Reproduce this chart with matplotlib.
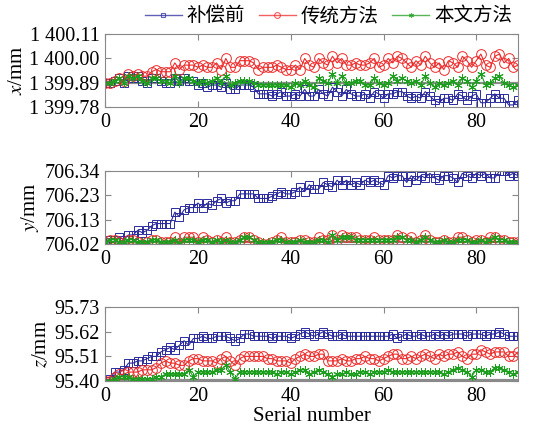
import numpy as np
import matplotlib
matplotlib.use('Agg')
import matplotlib.pyplot as plt
from matplotlib.lines import Line2D
from matplotlib.ticker import FuncFormatter

# fonts: Times-like for numbers, CJK fallback for legend
plt.rcParams['font.family'] = ['Liberation Serif', 'Noto Sans CJK SC']
plt.rcParams['mathtext.fontset'] = 'stix'
matplotlib.rc('xtick', labelsize=14.5)
matplotlib.rc('ytick', labelsize=14.5)

# serial numbers
serial = np.arange(90)

# legend labels
labels = ['补偿前', '传统方法', '本文方法']

# x coordinate (mm)
x_before = [1399.89, 1399.89, 1399.90, 1399.91, 1399.89, 1399.92, 1399.91, 1399.92, 1399.90, 1399.89,
            1399.91, 1399.91, 1399.90, 1399.89, 1399.89, 1399.91, 1399.90, 1399.91, 1399.90, 1399.90,
            1399.88, 1399.89, 1399.87, 1399.88, 1399.88, 1399.87, 1399.89, 1399.86, 1399.86, 1399.88,
            1399.88, 1399.88, 1399.87, 1399.84, 1399.84, 1399.84, 1399.83, 1399.84, 1399.85, 1399.83,
            1399.83, 1399.84, 1399.83, 1399.86, 1399.83, 1399.83, 1399.86, 1399.84, 1399.83, 1399.87,
            1399.85, 1399.83, 1399.86, 1399.84, 1399.83, 1399.83, 1399.84, 1399.82, 1399.85, 1399.84,
            1399.82, 1399.84, 1399.84, 1399.85, 1399.85, 1399.83, 1399.82, 1399.83, 1399.82, 1399.85,
            1399.83, 1399.81, 1399.80, 1399.82, 1399.82, 1399.81, 1399.84, 1399.83, 1399.81, 1399.83,
            1399.84, 1399.80, 1399.80, 1399.82, 1399.84, 1399.82, 1399.82, 1399.79, 1399.79, 1399.81]
x_trad = [1399.89, 1399.89, 1399.90, 1399.91, 1399.90, 1399.93, 1399.92, 1399.93, 1399.92, 1399.92,
          1399.94, 1399.95, 1399.94, 1399.94, 1399.94, 1399.98, 1399.95, 1399.97, 1399.97, 1399.97,
          1399.96, 1399.97, 1399.96, 1399.96, 1399.98, 1399.95, 1400.00, 1399.96, 1399.96, 1399.99,
          1399.99, 1399.99, 1399.98, 1399.95, 1399.96, 1399.96, 1399.96, 1399.97, 1399.96, 1399.95,
          1399.95, 1399.97, 1399.95, 1400.00, 1399.97, 1399.96, 1400.00, 1399.98, 1399.97, 1400.01,
          1399.98, 1400.00, 1399.97, 1399.97, 1399.98, 1399.97, 1399.97, 1399.98, 1400.00, 1399.96,
          1399.97, 1400.00, 1399.98, 1400.01, 1400.00, 1399.98, 1399.96, 1399.99, 1399.97, 1400.01,
          1399.98, 1399.96, 1399.98, 1399.95, 1399.99, 1399.98, 1399.96, 1400.01, 1399.99, 1399.96,
          1399.99, 1400.02, 1399.97, 1399.96, 1400.01, 1400.02, 1399.98, 1400.00, 1399.96, 1399.97]
x_ours = [1399.89, 1399.89, 1399.90, 1399.91, 1399.89, 1399.92, 1399.91, 1399.92, 1399.90, 1399.89,
          1399.91, 1399.91, 1399.90, 1399.90, 1399.89, 1399.92, 1399.89, 1399.91, 1399.91, 1399.90,
          1399.89, 1399.90, 1399.89, 1399.90, 1399.91, 1399.89, 1399.92, 1399.88, 1399.89, 1399.90,
          1399.90, 1399.90, 1399.89, 1399.88, 1399.88, 1399.88, 1399.88, 1399.88, 1399.88, 1399.88,
          1399.87, 1399.89, 1399.88, 1399.90, 1399.88, 1399.87, 1399.91, 1399.90, 1399.89, 1399.93,
          1399.89, 1399.92, 1399.89, 1399.89, 1399.90, 1399.90, 1399.88, 1399.88, 1399.91, 1399.89,
          1399.88, 1399.89, 1399.92, 1399.90, 1399.91, 1399.90, 1399.89, 1399.90, 1399.88, 1399.92,
          1399.89, 1399.87, 1399.89, 1399.88, 1399.89, 1399.90, 1399.88, 1399.91, 1399.90, 1399.87,
          1399.90, 1399.93, 1399.88, 1399.89, 1399.91, 1399.92, 1399.89, 1399.88, 1399.87, 1399.88]

# y coordinate (mm)
y_before = [706.03, 706.04, 706.04, 706.05, 706.04, 706.06, 706.06, 706.08, 706.07, 706.08,
            706.10, 706.11, 706.11, 706.11, 706.11, 706.16, 706.14, 706.17, 706.18, 706.18,
            706.20, 706.18, 706.20, 706.19, 706.21, 706.22, 706.20, 706.21, 706.21, 706.24,
            706.24, 706.24, 706.24, 706.22, 706.22, 706.22, 706.23, 706.24, 706.25, 706.24,
            706.24, 706.25, 706.27, 706.25, 706.28, 706.26, 706.26, 706.29, 706.28, 706.27,
            706.30, 706.28, 706.30, 706.28, 706.29, 706.28, 706.30, 706.29, 706.30, 706.29,
            706.28, 706.32, 706.31, 706.32, 706.32, 706.29, 706.32, 706.30, 706.32, 706.31,
            706.33, 706.31, 706.30, 706.32, 706.32, 706.31, 706.29, 706.33, 706.32, 706.31,
            706.33, 706.32, 706.33, 706.31, 706.31, 706.34, 706.34, 706.32, 706.33, 706.32]
y_trad = [706.03, 706.04, 706.04, 706.03, 706.02, 706.04, 706.04, 706.03, 706.02, 706.03,
          706.04, 706.04, 706.03, 706.03, 706.03, 706.05, 706.02, 706.05, 706.05, 706.05,
          706.03, 706.05, 706.04, 706.03, 706.04, 706.03, 706.05, 706.03, 706.03, 706.04,
          706.05, 706.05, 706.04, 706.03, 706.02, 706.02, 706.03, 706.04, 706.05, 706.03,
          706.03, 706.03, 706.04, 706.04, 706.03, 706.03, 706.05, 706.04, 706.04, 706.06,
          706.04, 706.06, 706.05, 706.05, 706.05, 706.04, 706.04, 706.04, 706.05, 706.04,
          706.04, 706.04, 706.04, 706.06, 706.05, 706.04, 706.05, 706.03, 706.04, 706.06,
          706.04, 706.03, 706.03, 706.04, 706.03, 706.03, 706.05, 706.05, 706.04, 706.03,
          706.04, 706.04, 706.03, 706.05, 706.05, 706.04, 706.04, 706.03, 706.03, 706.03]
y_ours = [706.03, 706.04, 706.04, 706.03, 706.03, 706.04, 706.04, 706.03, 706.03, 706.03,
          706.04, 706.04, 706.03, 706.03, 706.03, 706.04, 706.02, 706.04, 706.04, 706.04,
          706.03, 706.04, 706.04, 706.03, 706.04, 706.03, 706.04, 706.03, 706.03, 706.04,
          706.05, 706.05, 706.04, 706.03, 706.03, 706.03, 706.03, 706.04, 706.04, 706.03,
          706.03, 706.03, 706.04, 706.03, 706.03, 706.03, 706.04, 706.04, 706.03, 706.06,
          706.04, 706.05, 706.05, 706.05, 706.04, 706.04, 706.04, 706.04, 706.04, 706.04,
          706.04, 706.04, 706.04, 706.05, 706.05, 706.04, 706.04, 706.03, 706.04, 706.05,
          706.04, 706.03, 706.03, 706.04, 706.03, 706.03, 706.04, 706.04, 706.04, 706.03,
          706.03, 706.04, 706.03, 706.04, 706.05, 706.04, 706.04, 706.03, 706.03, 706.03]

# z coordinate (mm)
z_before = [95.40, 95.41, 95.44, 95.44, 95.45, 95.48, 95.48, 95.49, 95.49, 95.50,
            95.51, 95.51, 95.53, 95.54, 95.55, 95.54, 95.56, 95.58, 95.56, 95.59,
            95.59, 95.60, 95.59, 95.59, 95.60, 95.60, 95.60, 95.59, 95.58, 95.59,
            95.61, 95.61, 95.60, 95.60, 95.60, 95.60, 95.59, 95.60, 95.60, 95.60,
            95.59, 95.60, 95.61, 95.62, 95.61, 95.60, 95.61, 95.62, 95.61, 95.60,
            95.60, 95.61, 95.60, 95.60, 95.60, 95.60, 95.60, 95.60, 95.60, 95.60,
            95.60, 95.60, 95.61, 95.59, 95.60, 95.61, 95.60, 95.60, 95.61, 95.60,
            95.60, 95.61, 95.60, 95.61, 95.60, 95.61, 95.61, 95.61, 95.60, 95.61,
            95.61, 95.61, 95.60, 95.61, 95.61, 95.62, 95.61, 95.60, 95.60, 95.60]
z_trad = [95.40, 95.40, 95.42, 95.43, 95.43, 95.44, 95.44, 95.44, 95.45, 95.45,
          95.45, 95.46, 95.48, 95.49, 95.48, 95.48, 95.47, 95.47, 95.49, 95.50,
          95.50, 95.49, 95.49, 95.49, 95.48, 95.50, 95.51, 95.49, 95.47, 95.50,
          95.51, 95.51, 95.51, 95.51, 95.51, 95.50, 95.50, 95.49, 95.49, 95.49,
          95.48, 95.50, 95.51, 95.52, 95.51, 95.51, 95.52, 95.52, 95.49, 95.49,
          95.49, 95.50, 95.49, 95.49, 95.50, 95.50, 95.51, 95.50, 95.50, 95.49,
          95.50, 95.51, 95.52, 95.52, 95.50, 95.50, 95.51, 95.50, 95.51, 95.52,
          95.51, 95.50, 95.52, 95.51, 95.52, 95.52, 95.53, 95.51, 95.50, 95.52,
          95.52, 95.54, 95.53, 95.52, 95.53, 95.53, 95.53, 95.51, 95.51, 95.53]
z_ours = [95.40, 95.40, 95.41, 95.42, 95.42, 95.42, 95.41, 95.41, 95.41, 95.41,
          95.41, 95.42, 95.42, 95.43, 95.43, 95.43, 95.43, 95.43, 95.45, 95.42,
          95.44, 95.44, 95.44, 95.44, 95.45, 95.45, 95.47, 95.44, 95.41, 95.44,
          95.44, 95.44, 95.44, 95.44, 95.44, 95.44, 95.44, 95.43, 95.44, 95.44,
          95.43, 95.44, 95.45, 95.45, 95.43, 95.44, 95.45, 95.44, 95.43, 95.42,
          95.43, 95.43, 95.44, 95.43, 95.43, 95.44, 95.44, 95.43, 95.44, 95.44,
          95.44, 95.45, 95.44, 95.44, 95.44, 95.44, 95.44, 95.44, 95.44, 95.44,
          95.44, 95.44, 95.44, 95.43, 95.44, 95.45, 95.46, 95.45, 95.44, 95.42,
          95.45, 95.45, 95.44, 95.44, 95.46, 95.46, 95.45, 95.44, 95.43, 95.44]

# axis ranges and nominal values
x_lim = (1399.78, 1400.11)
y_lim = (706.02, 706.34)
z_lim = (95.40, 95.73)
nominal = [1399.888, 706.028, 95.405]

colors = ['#2B2B9E', '#EE2A2A', '#1E9E1E']
markers = ['s', 'o', (6, 2, 0)]
msizes = [5.5, 7, 6]

def thousands(v, pos):
    s = '{:.2f}'.format(v)
    ip, fp = s.split('.')
    if len(ip) > 3:
        ip = ip[:-3] + ' ' + ip[-3:]
    return ip + '.' + fp

def plot_panel(ax, series, lim, ref, ylab, fmt=None):
    '''
        Draw one coordinate panel
    '''
    ax.axhline(ref, color='#8C8C8C', lw=1.6, zorder=1)
    for s, c, m, ms in zip(series, colors, markers, msizes):
        ax.plot(serial, s, color=c, lw=0.8, marker=m, ms=ms,
                mfc='none', mec=c, mew=0.7, zorder=2)
    ax.set_xlim(0, 89)
    ax.set_ylim(lim)
    ax.set_yticks(np.linspace(lim[0], lim[1], 4))
    ax.set_xticks([0, 20, 40, 60, 80])
    if fmt is not None:
        ax.yaxis.set_major_formatter(FuncFormatter(fmt))
    else:
        ax.yaxis.set_major_formatter(FuncFormatter(lambda v, p: '{:.2f}'.format(v)))
    ax.tick_params(direction='in', top=True, right=True, length=4,
                   color='#888888', pad=4)
    for sp in ax.spines.values():
        sp.set_color('#888888')
        sp.set_linewidth(0.8)
    ax.set_ylabel(ylab, fontsize=15, labelpad=2)

# create the figure
fig = plt.figure(figsize=(5.54, 4.32), dpi=100)
ax1 = fig.add_axes([0.19, 0.752, 0.745, 0.169])
ax2 = fig.add_axes([0.19, 0.435, 0.745, 0.169])
ax3 = fig.add_axes([0.19, 0.118, 0.745, 0.171])

plot_panel(ax1, [x_before, x_trad, x_ours], x_lim, nominal[0], r'$x$/mm', thousands)
plot_panel(ax2, [y_before, y_trad, y_ours], y_lim, nominal[1], r'$y$/mm')
plot_panel(ax3, [z_before, z_trad, z_ours], z_lim, nominal[2], r'$z$/mm')

ax3.set_xlabel('Serial number', fontsize=15, labelpad=1)

# legend on top, with pale handles like the original
handles = [Line2D([], [], color=c, alpha=0.75, lw=1.0, marker=m, ms=ms * 0.6,
                  mfc='none', mec=c, mew=0.8)
           for c, m, ms in zip(colors, markers, msizes)]
fig.legend(handles, labels, loc='center', bbox_to_anchor=(0.593, 0.963), ncol=3,
           frameon=False, handlelength=1.9, handletextpad=0.25,
           columnspacing=0.7, prop={'family': ['Noto Sans CJK SC'], 'size': 14})

plt.savefig('out.png', dpi=100)
